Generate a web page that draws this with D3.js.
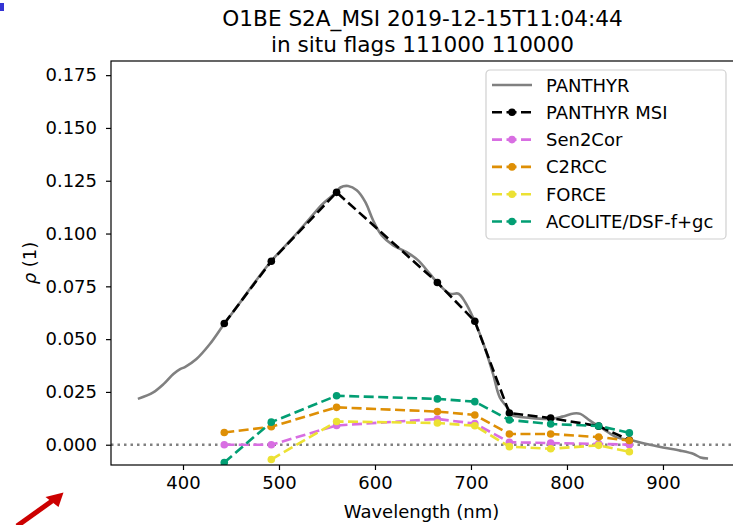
<!DOCTYPE html>
<html>
<head>
<meta charset="utf-8">
<script src="https://cdn.jsdelivr.net/npm/d3@7"></script>
<style>
  html, body { margin: 0; padding: 0; background: #fff; }
  svg { display: block; font-family: "DejaVu Sans", sans-serif; }
</style>
</head>
<body>
<svg id="chart" width="733" height="525"></svg>
<script>
// ---- data ----
const titleLines = ['O1BE S2A_MSI 2019-12-15T11:04:44', 'in situ flags 111000 110000'];

// hyperspectral PANTHYR trace
const panthyrWl = [353, 369, 380, 390, 397, 402, 414, 428, 443, 456, 470, 492, 515, 532, 546, 559,
  564, 572, 581, 590, 598, 607, 619, 633, 645, 657, 666, 678, 687, 694, 702, 713, 723, 730, 739,
  742, 762, 782, 795, 807, 814, 824, 838, 852, 866, 883, 900, 918, 932, 939, 947];
const panthyrRho = [0.0217, 0.0248, 0.0288, 0.0335, 0.0358, 0.0368, 0.0406, 0.0477, 0.0573, 0.0652,
  0.0740, 0.0870, 0.0983, 0.1071, 0.1142, 0.1192, 0.1218, 0.1225, 0.1205, 0.1149, 0.1063, 0.0991,
  0.0944, 0.0912, 0.0873, 0.0810, 0.0762, 0.0715, 0.0715, 0.0675, 0.0604, 0.0478, 0.0335, 0.0224,
  0.0169, 0.0142, 0.0127, 0.0122, 0.0133, 0.0148, 0.0146, 0.0114, 0.0074, 0.0035, 0.0022, 0.0003,
  -0.0013, -0.0028, -0.0044, -0.0060, -0.0065];

// MSI band centres
const msiWl = [443, 492, 560, 665, 704, 740, 783, 833, 865];
const panthyrMsi = [0.0574, 0.0869, 0.1195, 0.0768, 0.0585, 0.0150, 0.0126, 0.0088, 0.0022];
const sen2cor    = [0.0000, 0.0000, 0.0091, 0.0122, 0.0100, 0.0012, 0.0008, 0.0004, 0.0000];
const c2rcc      = [0.0058, 0.0085, 0.0177, 0.0157, 0.0141, 0.0051, 0.0051, 0.0036, 0.0020];
const force      = [null, -0.0070, 0.0110, 0.0103, 0.0090, -0.0009, -0.0019, -0.0003, -0.0033];
const acolite    = [-0.0084, 0.0107, 0.0232, 0.0217, 0.0204, 0.0117, 0.0098, 0.0089, 0.0056];

const seriesNames  = ['PANTHYR MSI', 'Sen2Cor', 'C2RCC', 'FORCE', 'ACOLITE/DSF-f+gc'];
const seriesColors = ['#000000', '#d86ee2', '#de8f05', '#ece133', '#029e73'];
const seriesValues = [panthyrMsi, sen2cor, c2rcc, force, acolite];

const xTicks = [400, 500, 600, 700, 800, 900];
const yTicks = [0, 0.025, 0.05, 0.075, 0.1, 0.125, 0.15, 0.175];

// ---- layout ----
const svg = d3.select('#chart');
const box = { l: 111, r: 734, t: 61, b: 465 };

const x = d3.scaleLinear().domain([325, 974]).range([box.l, box.r]);
const y = d3.scaleLinear().domain([-0.0096, 0.1817]).range([box.b, box.t]);

svg.append('defs').append('clipPath').attr('id', 'plot-clip')
  .append('rect').attr('x', box.l).attr('y', box.t)
  .attr('width', box.r - box.l).attr('height', box.b - box.t);

const plot = svg.append('g').attr('clip-path', 'url(#plot-clip)');

// zero reference
plot.append('line')
  .attr('x1', box.l).attr('x2', box.r).attr('y1', y(0)).attr('y2', y(0))
  .attr('stroke', '#808080').attr('stroke-width', 2.5).attr('stroke-dasharray', '2.5,4');

// hyperspectral line
const hyper = panthyrWl.map((w, i) => ({ w, v: panthyrRho[i] }));
plot.append('path').datum(hyper)
  .attr('fill', 'none').attr('stroke', '#808080').attr('stroke-width', 2.6)
  .attr('d', d3.line().x(d => x(d.w)).y(d => y(d.v)).curve(d3.curveCatmullRom));

// band series
const bandLine = d3.line()
  .defined(d => d.v != null)
  .x(d => x(d.w)).y(d => y(d.v));

seriesValues.forEach((vals, k) => {
  const data = msiWl.map((w, i) => ({ w, v: vals[i] }));
  plot.append('path').datum(data)
    .attr('fill', 'none').attr('stroke', seriesColors[k]).attr('stroke-width', 2.6)
    .attr('stroke-dasharray', '10,4.5')
    .attr('d', bandLine);
  plot.append('g').selectAll('circle')
    .data(data.filter(d => d.v != null))
    .join('circle')
      .attr('cx', d => x(d.w)).attr('cy', d => y(d.v)).attr('r', 3.8)
      .attr('fill', seriesColors[k]);
});

// axes
const xAxis = svg.append('g').attr('transform', `translate(0,${box.b})`)
  .call(d3.axisBottom(x).tickValues(xTicks).tickSize(5).tickPadding(6).tickSizeOuter(0));
const yAxis = svg.append('g').attr('transform', `translate(${box.l},0)`)
  .call(d3.axisLeft(y).tickValues(yTicks).tickFormat(d3.format('.3f')).tickSize(5).tickPadding(9).tickSizeOuter(0));
[xAxis, yAxis].forEach(a => {
  a.select('.domain').remove();
  a.selectAll('line').attr('stroke', '#000').attr('stroke-width', 1.2);
  a.selectAll('text').attr('fill', '#000').style('font-size', '18px')
    .style('font-family', '"DejaVu Sans", sans-serif');
});

// spines
svg.append('rect')
  .attr('x', box.l).attr('y', box.t).attr('width', box.r - box.l).attr('height', box.b - box.t)
  .attr('fill', 'none').attr('stroke', '#000').attr('stroke-width', 1.2);

// labels
svg.append('text').attr('x', (box.l + box.r) / 2 - 1).attr('y', 518)
  .attr('text-anchor', 'middle').style('font-size', '18px').text('Wavelength (nm)');
svg.append('text').attr('transform', `translate(36,${(box.t + box.b) / 2}) rotate(-90)`)
  .attr('text-anchor', 'middle').style('font-size', '18px')
  .html('<tspan font-style="italic">ρ</tspan> (1)');

const title = svg.append('text').attr('text-anchor', 'middle').style('font-size', '21.6px');
titleLines.forEach((t, i) => {
  title.append('tspan').attr('x', (box.l + box.r) / 2).attr('y', 26 + i * 26).text(t);
});

// legend
const leg = svg.append('g').attr('transform', 'translate(486,70)');
leg.append('rect').attr('width', 240).attr('height', 169).attr('rx', 4)
  .attr('fill', '#fff').attr('fill-opacity', 0.8).attr('stroke', '#d0d0d0').attr('stroke-width', 1.2);

const legendItems = [{ name: 'PANTHYR', color: '#808080', solid: true }]
  .concat(seriesNames.map((n, k) => ({ name: n, color: seriesColors[k], solid: false })));

legendItems.forEach((it, i) => {
  const row = leg.append('g').attr('transform', `translate(0,${15 + i * 27.3})`);
  row.append('line').attr('x1', 6).attr('x2', 46).attr('y1', 0).attr('y2', 0)
    .attr('stroke', it.color).attr('stroke-width', 2.6)
    .attr('stroke-dasharray', it.solid ? null : '10,4.5');
  if (!it.solid) row.append('circle').attr('cx', 26).attr('cy', 0).attr('r', 3.8).attr('fill', it.color);
  row.append('text').attr('x', 60).attr('y', 6.5).style('font-size', '18px').text(it.name);
});

// marks on the picture outside the chart
svg.append('rect').attr('x', 0).attr('y', 3).attr('width', 4).attr('height', 8).attr('fill', '#3434d4');
svg.append('line').attr('x1', 17).attr('y1', 526).attr('x2', 52).attr('y2', 501)
  .attr('stroke', '#cc0000').attr('stroke-width', 5);
svg.append('path').attr('d', 'M63.5,492.5 L45.5,497 L58.5,507 Z').attr('fill', '#cc0000');
</script>
</body>
</html>
